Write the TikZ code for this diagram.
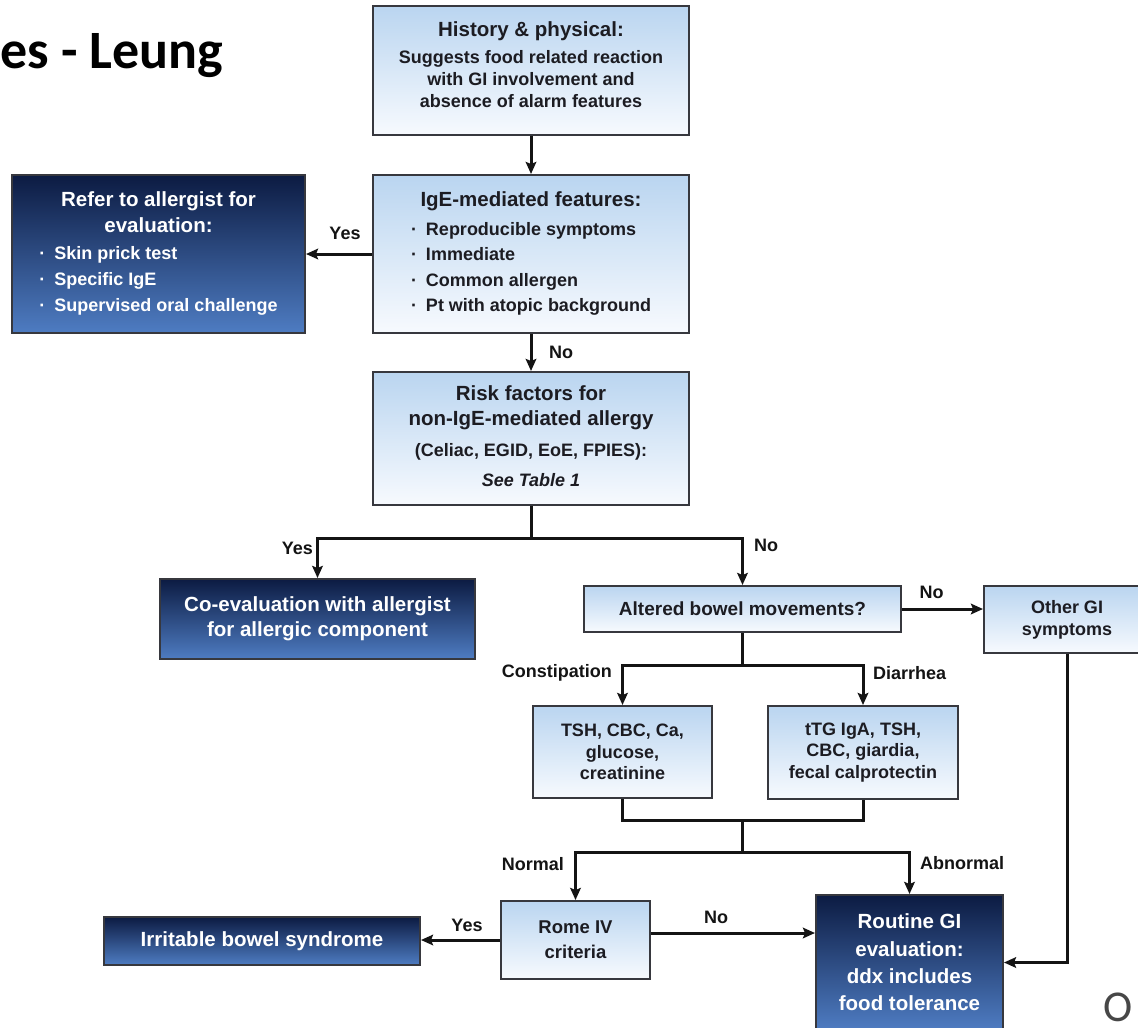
\documentclass[tikz,border=0pt]{standalone}
\usepackage{fontspec}
\setmainfont{Liberation Sans}
\newfontfamily\titlefont{Carlito}
\usetikzlibrary{arrows.meta}

\definecolor{lightTop}{RGB}{186,213,240}
\definecolor{lightBot}{RGB}{247,250,254}
\definecolor{darkTop}{RGB}{12,27,66}
\definecolor{darkBot}{RGB}{78,124,194}
\definecolor{edge}{RGB}{55,56,62}
\definecolor{ink}{RGB}{28,28,34}

\tikzset{
  x=1pt, y=-1pt,
  box/.style={draw=edge, line width=2pt, inner sep=0pt, align=center,
    font=\bfseries\fontsize{18}{22}\selectfont},
  lightbox/.style={box, top color=lightTop, bottom color=lightBot, text=ink},
  darkbox/.style={box, top color=darkTop, bottom color=darkBot, text=white},
  conn/.style={line width=3pt, draw=black!92},
  arr/.style={conn, -{Stealth[length=12pt,width=10.5pt,inset=2pt]}},
  lbl/.style={font=\bfseries\fontsize{18}{22}\selectfont, inner sep=0pt, text=black!92},
}

\begin{document}
\begin{tikzpicture}
\fill[white] (0,0) rectangle (1138,1028);
\useasboundingbox (0,0) rectangle (1138,1028);

% heading fragment and corner letter
\node[anchor=base west, inner sep=0pt, font=\titlefont\bfseries\fontsize{54}{60}\selectfont] (title) at (0,68) {es - Leung};
\node[anchor=base west, inner sep=0pt, text=black!72, font=\titlefont\fontsize{44}{50}\selectfont] (corner) at (1103,1021) {O};

% boxes
\node[lightbox, minimum width=316pt, minimum height=129pt] (hp) at (531,70.5) {%
  \begin{tabular}{@{}c@{}}
  {\fontsize{20.5}{25}\selectfont History \& physical:}\\[5pt]
  Suggests food related reaction\\
  with GI involvement and\\
  absence of alarm features\\[6pt]
  \end{tabular}};

\node[lightbox, minimum width=316pt, minimum height=158pt, font=\bfseries\fontsize{18}{25.5}\selectfont] (ige) at (531,254) {%
  \begin{tabular}{@{}c@{\hspace{9pt}}l@{}}
  \multicolumn{2}{c}{\fontsize{20.5}{25}\selectfont IgE-mediated features:}\\[3pt]
  \textperiodcentered & Reproducible symptoms\\
  \textperiodcentered & Immediate\\
  \textperiodcentered & Common allergen\\
  \textperiodcentered & Pt with atopic background
  \end{tabular}};

\node[darkbox, minimum width=293pt, minimum height=158pt, font=\bfseries\fontsize{18}{26}\selectfont] (refer) at (158.5,254) {%
  \begin{tabular}{@{}c@{\hspace{9pt}}l@{}}
  \multicolumn{2}{c}{\fontsize{20.5}{25}\selectfont Refer to allergist for}\\
  \multicolumn{2}{c}{\fontsize{20.5}{25}\selectfont evaluation:}\\[1pt]
  \textperiodcentered & Skin prick test\\
  \textperiodcentered & Specific IgE\\
  \textperiodcentered & Supervised oral challenge
  \end{tabular}};

\node[lightbox, minimum width=316pt, minimum height=133pt, font=\bfseries\fontsize{20.5}{25}\selectfont] (risk) at (531,438.5) {%
  \begin{tabular}{@{}c@{}}
  Risk factors for\\
  non-IgE-mediated allergy\\[6pt]
  {\fontsize{18}{22}\selectfont (Celiac, EGID, EoE, FPIES):}\\[5pt]
  {\fontsize{18}{22}\selectfont\itshape See Table 1}
  \end{tabular}};

\node[darkbox, minimum width=315pt, minimum height=80pt, font=\bfseries\fontsize{20.5}{25}\selectfont] (coeval) at (317.5,619)
  {Co-evaluation with allergist\\ for allergic component};

\node[lightbox, minimum width=317pt, minimum height=46pt, font=\bfseries\fontsize{19}{23}\selectfont] (altered) at (742.5,609)
  {Altered bowel movements?};

\node[lightbox, minimum width=166pt, minimum height=67pt] (other) at (1067,619.5)
  {Other GI\\ symptoms};

\node[lightbox, minimum width=179pt, minimum height=92pt, font=\bfseries\fontsize{18}{21.5}\selectfont] (tsh) at (622.5,752)
  {TSH, CBC, Ca,\\ glucose,\\ creatinine};

\node[lightbox, minimum width=190pt, minimum height=93pt, font=\bfseries\fontsize{18}{21.5}\selectfont] (ttg) at (863,752.5)
  {tTG IgA, TSH,\\ CBC, giardia,\\ fecal calprotectin};

\node[lightbox, minimum width=149pt, minimum height=78pt, font=\bfseries\fontsize{18.5}{25}\selectfont] (rome) at (575.5,940)
  {Rome IV\\ criteria};

\node[darkbox, minimum width=316pt, minimum height=48pt, font=\bfseries\fontsize{20.5}{25}\selectfont] (ibs) at (262,941)
  {Irritable bowel syndrome};

\node[darkbox, minimum width=187pt, minimum height=135pt, font=\bfseries\fontsize{20.5}{27.3}\selectfont] (routine) at (909.5,962.5)
  {Routine GI\\ evaluation:\\ ddx includes\\ food tolerance};

% connectors
\draw[arr] (hp) -- (ige);
\draw[arr] (ige.west) -- (refer.east);
\node[lbl] (yesA) at (345,233) {Yes};
\draw[arr] (ige) -- (risk);
\node[lbl, anchor=west] (noA) at (549,352) {No};

\coordinate (rj) at (531,538);
\draw[conn] (risk.south) -- (rj);
\draw[arr] (rj) -| (coeval.north);
\draw[arr] (rj) -| (altered.north);
\node[lbl, anchor=east] (yesB) at (313,548) {Yes};
\node[lbl, anchor=west] (noB) at (754,545) {No};

\draw[arr] (altered.east) -- (altered.east -| other.west);
\node[lbl] (noC) at (931.5,592) {No};

\coordinate (bj) at (742.5,665);
\draw[conn] (altered.south) -- (bj);
\draw[arr] (bj) -| (tsh.north);
\draw[arr] (bj) -| (ttg.north);
\node[lbl, anchor=east] (constip) at (612,673) {Constipation};
\node[lbl, anchor=west] (diarr) at (873,673) {Diarrhea};

\coordinate (mj) at (742.5,820);
\coordinate (nj) at (742.5,852);
\draw[conn] (tsh.south) |- (mj) -| (ttg.south);
\draw[conn] (mj) -- (nj);
\draw[arr] (nj) -| (rome.north);
\draw[arr] (nj) -| (routine.north);
\node[lbl, anchor=east] (normal) at (564,864) {Normal};
\node[lbl, anchor=west] (abnormal) at (920,863) {Abnormal};

\draw[arr] (rome.west) -- (rome.west -| ibs.east);
\node[lbl] (yesC) at (467,925) {Yes};
\coordinate (noy) at (0,933);
\draw[arr] (rome.east |- noy) -- (routine.west |- noy);
\node[lbl] (noD) at (716,917) {No};

\draw[arr] (other.south) |- (routine.east);
\end{tikzpicture}
\end{document}
